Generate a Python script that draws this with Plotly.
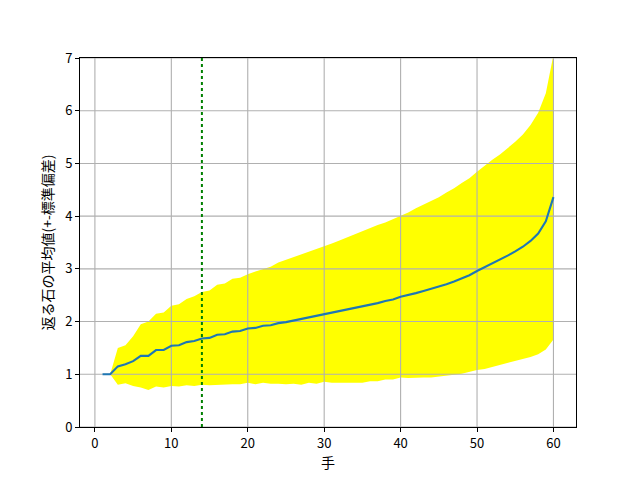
import plotly.graph_objects as go

moves = list(range(1, 61))
mean_flips = [
    1.00, 1.00, 1.15, 1.19, 1.25, 1.35, 1.35, 1.46, 1.46, 1.54,
    1.55, 1.61, 1.63, 1.68, 1.69, 1.75, 1.76, 1.81, 1.82, 1.87,
    1.88, 1.92, 1.93, 1.97, 1.99, 2.02, 2.04, 2.08, 2.10, 2.14,
    2.16, 2.19, 2.22, 2.25, 2.28, 2.32, 2.35, 2.39, 2.42, 2.47,
    2.50, 2.54, 2.58, 2.62, 2.66, 2.71, 2.76, 2.82, 2.88, 2.96,
    3.03, 3.10, 3.17, 3.25, 3.33, 3.42, 3.53, 3.67, 3.90, 4.36,
]
std_flips = [
    0.00, 0.00, 0.35, 0.36, 0.47, 0.60, 0.65, 0.69, 0.71, 0.76,
    0.78, 0.82, 0.85, 0.88, 0.90, 0.95, 0.96, 1.00, 1.01, 1.03,
    1.07, 1.08, 1.11, 1.15, 1.18, 1.20, 1.24, 1.24, 1.28, 1.28,
    1.32, 1.35, 1.38, 1.41, 1.44, 1.45, 1.48, 1.49, 1.52, 1.53,
    1.57, 1.61, 1.64, 1.68, 1.70, 1.74, 1.77, 1.81, 1.84, 1.88,
    1.93, 1.97, 2.00, 2.04, 2.08, 2.13, 2.20, 2.29, 2.43, 2.70,
]
marker_move = 14
x_ticks = [0, 10, 20, 30, 40, 50, 60]
y_ticks = [0, 1, 2, 3, 4, 5, 6, 7]
x_range = [-1.95, 62.95]
y_range = [0, 7]

upper = [m + s for m, s in zip(mean_flips, std_flips)]
lower = [m - s for m, s in zip(mean_flips, std_flips)]

FONT = "Noto Sans CJK JP"
fig = go.Figure()

# band
fig.add_trace(go.Scatter(
    x=moves + moves[::-1], y=upper + lower[::-1],
    fill="toself", fillcolor="#ffff00", line=dict(width=0),
    mode="lines", hoverinfo="skip", showlegend=False,
))

# grid lines (above the band, below the line)
gx, gy = [], []
for t in x_ticks:
    gx += [t, t, None]
    gy += [y_range[0], y_range[1], None]
for t in y_ticks:
    gx += [x_range[0], x_range[1], None]
    gy += [t, t, None]
fig.add_trace(go.Scatter(
    x=gx, y=gy, mode="lines", line=dict(color="#b0b0b0", width=1.1),
    hoverinfo="skip", showlegend=False,
))

# mean line
fig.add_trace(go.Scatter(
    x=moves, y=mean_flips, mode="lines",
    line=dict(color="#1f77b4", width=2.1), showlegend=False,
))

# vertical marker
fig.add_trace(go.Scatter(
    x=[marker_move, marker_move], y=y_range, mode="lines",
    line=dict(color="#008000", width=2, dash="dot"),
    showlegend=False, hoverinfo="skip",
))

axis_common = dict(
    showgrid=False, zeroline=False, showline=True, linecolor="black",
    linewidth=1, mirror=True, ticks="outside", ticklen=4, tickcolor="black",
    tickfont=dict(family=FONT, size=13, color="black"),
)
fig.update_xaxes(range=x_range, tickvals=x_ticks, **axis_common,
                 title=dict(text="手", font=dict(family=FONT, size=14, color="black"), standoff=5))
fig.update_yaxes(range=y_range, tickvals=y_ticks, **axis_common,
                 title=dict(text="返る石の平均値(+-標準偏差)", font=dict(family=FONT, size=14, color="black"), standoff=8))

fig.update_layout(
    width=640, height=480,
    margin=dict(l=80, r=64, t=58, b=53),
    paper_bgcolor="white", plot_bgcolor="white",
    font=dict(family=FONT, size=13, color="black"),
)

fig.write_html("out.html", config={"displayModeBar": False},
               post_script="document.body.style.margin='0';")
